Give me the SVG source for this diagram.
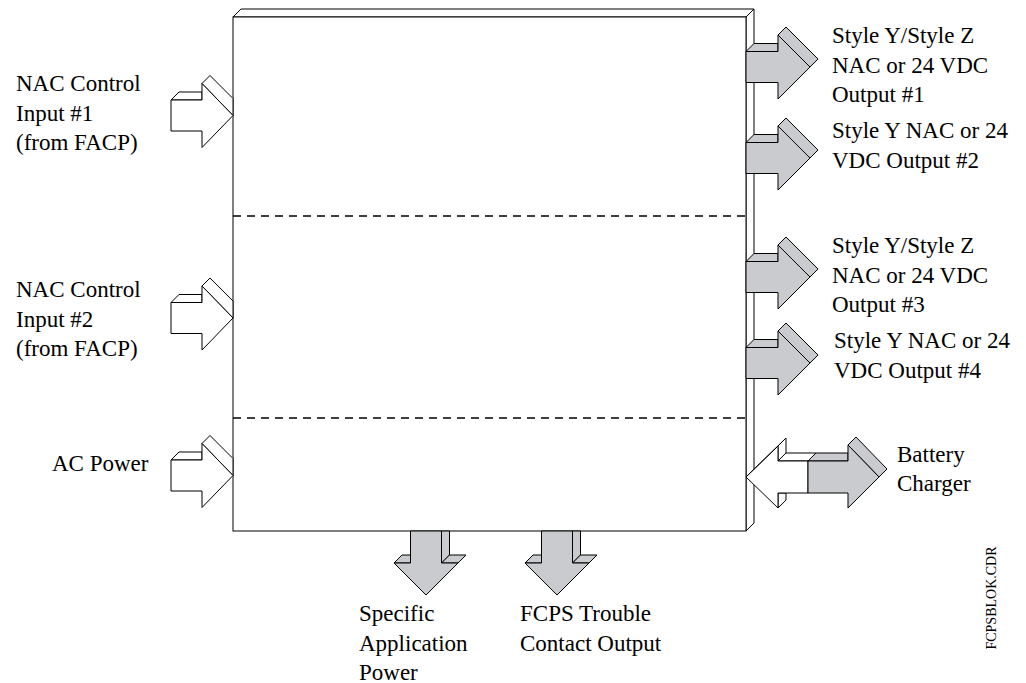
<svg xmlns="http://www.w3.org/2000/svg" width="1026" height="683" viewBox="0 0 1026 683">
  <style>
    .ln { stroke: #000; stroke-width: 1; stroke-linejoin: miter; }
    .w { fill: #fff; }
    .g { fill: #cacbcf; }
    .dash { stroke: #000; stroke-width: 1.6; stroke-dasharray: 8 6; fill: none; }
    .t { font-family: "Liberation Serif", "Times New Roman", serif; font-size: 23px; fill: #000; }
    .tag { font-family: "Liberation Serif", "Times New Roman", serif; font-size: 14px; fill: #000; }
  </style>
  <defs>
    <!-- white input arrow pointing right, tip at origin, depth offset (+8,-8) -->
    <g id="inArrow">
      <polygon class="ln w" points="-62,-15.5 -54,-23.5 -31,-23.5 -31,-15.5"/>
      <polygon class="ln w" points="-31,-32 -23,-40 0,-17 0,0"/>
      <polygon class="ln w" points="-62,-15.5 -31,-15.5 -31,-32 0,0 -31,32 -31,15.5 -62,15.5"/>
    </g>
    <!-- grey output arrow pointing right, shaft starting at origin -->
    <g id="outArrow">
      <polygon class="ln g" points="0,-15.5 8,-23.5 32,-23.5 32,-15.5"/>
      <polygon class="ln g" points="32,-32 40,-40 72,-8 64,0"/>
      <polygon class="ln g" points="0,-15.5 32,-15.5 32,-32 64,0 32,32 32,15.5 0,15.5"/>
    </g>
    <!-- grey output arrow pointing down, shaft starting at origin -->
    <g id="downArrow">
      <polygon class="ln g" points="15.5,0 23.5,0 23.5,24 15.5,32"/>
      <polygon class="ln g" points="15.5,32 23.5,24 40,24 32,32"/>
      <polygon class="ln g" points="-32,32 -24,24 -15.5,24 -15.5,32"/>
      <polygon class="ln g" points="-15.5,0 15.5,0 15.5,32 32,32 0,64 -32,32 -15.5,32"/>
    </g>
  </defs>

  <!-- power supply enclosure -->
  <g id="enclosure">
    <polygon class="ln w" points="233,17 241,9 754,9 746,17"/>
    <polygon class="ln w" points="746,17 754,9 754,523 746,531"/>
    <rect class="ln w" x="233" y="17" width="513" height="514"/>
    <line class="dash" x1="233" y1="216" x2="746" y2="216"/>
    <line class="dash" x1="233" y1="418" x2="746" y2="418"/>
  </g>

  <g id="connectors">
    <!-- inputs -->
    <use href="#inArrow" x="233" y="115.5"/>
    <use href="#inArrow" x="233" y="318"/>
    <use href="#inArrow" x="233" y="475.5"/>
    <!-- outputs -->
    <use href="#outArrow" x="746" y="67"/>
    <use href="#outArrow" x="746" y="158"/>
    <use href="#outArrow" x="746" y="277"/>
    <use href="#outArrow" x="746" y="363"/>
    <use href="#downArrow" x="426" y="531"/>
    <use href="#downArrow" x="557" y="531"/>
    <!-- battery charger: two-way arrow -->
    <g id="battery-arrow">
      <polygon class="ln w" points="778,446 786,438 786,453 778,461"/>
      <polygon class="ln w" points="778,493 778,508 786,500 786,493"/>
      <polygon class="ln w" points="778,461 786,453 816,453 808,461"/>
      <polygon class="ln w" points="746,477 778,446 778,461 808,461 808,493 778,493 778,508"/>
      <line class="ln" x1="746" y1="477" x2="786" y2="438"/>
      <polygon class="ln g" points="808,461 816,453 848,453 848,461"/>
      <polygon class="ln g" points="848,445 856,437 887,469 879,477"/>
      <polygon class="ln g" points="808,461 848,461 848,445 879,477 848,508 848,493 808,493"/>
    </g>
  </g>

  <g id="label-input1">
    <text class="t" x="16" y="91">NAC Control</text>
    <text class="t" x="16" y="120.5">Input #1</text>
    <text class="t" x="16" y="150">(from FACP)</text>
  </g>
  <g id="label-input2">
    <text class="t" x="16" y="297">NAC Control</text>
    <text class="t" x="16" y="327">Input #2</text>
    <text class="t" x="16" y="356">(from FACP)</text>
  </g>
  <g id="label-ac">
    <text class="t" x="52" y="471">AC Power</text>
  </g>
  <g id="label-out1">
    <text class="t" x="832" y="43">Style Y/Style Z</text>
    <text class="t" x="832" y="73">NAC or 24 VDC</text>
    <text class="t" x="832" y="102">Output #1</text>
  </g>
  <g id="label-out2">
    <text class="t" x="832" y="138">Style Y NAC or 24</text>
    <text class="t" x="832" y="168">VDC Output #2</text>
  </g>
  <g id="label-out3">
    <text class="t" x="832" y="253">Style Y/Style Z</text>
    <text class="t" x="832" y="283">NAC or 24 VDC</text>
    <text class="t" x="832" y="312">Output #3</text>
  </g>
  <g id="label-out4">
    <text class="t" x="834" y="348">Style Y NAC or 24</text>
    <text class="t" x="834" y="378">VDC Output #4</text>
  </g>
  <g id="label-battery">
    <text class="t" x="897" y="462">Battery</text>
    <text class="t" x="897" y="491">Charger</text>
  </g>
  <g id="label-specific">
    <text class="t" x="359" y="621">Specific</text>
    <text class="t" x="359" y="651">Application</text>
    <text class="t" x="359" y="680">Power</text>
  </g>
  <g id="label-trouble">
    <text class="t" x="520" y="621">FCPS Trouble</text>
    <text class="t" x="520" y="651">Contact Output</text>
  </g>
  <text class="tag" transform="translate(996,598) rotate(-90)" text-anchor="middle">FCPSBLOK.CDR</text>
</svg>
